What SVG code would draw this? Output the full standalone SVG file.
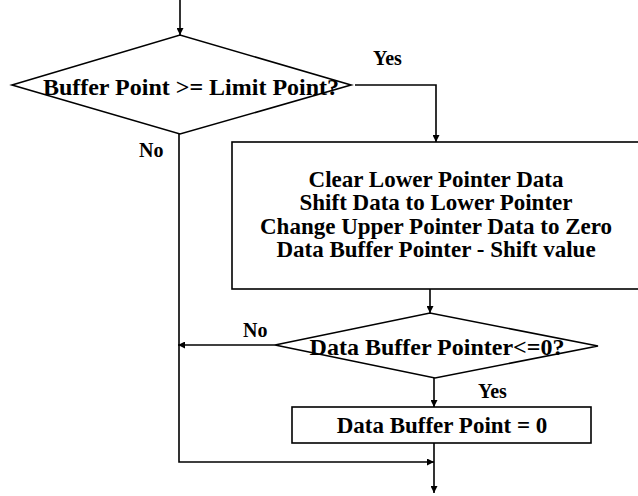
<svg xmlns="http://www.w3.org/2000/svg" width="638" height="496" viewBox="0 0 638 496">
<defs>
<marker id="ah" viewBox="0 0 10 10" refX="10" refY="5" markerWidth="7" markerHeight="7" markerUnits="userSpaceOnUse" orient="auto">
<path d="M0,0 L10,5 L0,10 z" fill="#000"/>
</marker>
<style>
.shape{fill:#fff;stroke:#000;stroke-width:1.6}
.conn{fill:none;stroke:#000;stroke-width:1.6}
.t{font-family:"Liberation Serif","Times New Roman",serif;font-weight:bold;fill:#000;text-anchor:middle}
.lbl{font-family:"Liberation Serif","Times New Roman",serif;font-weight:bold;fill:#000;font-size:20px}
</style>
</defs>
<rect width="638" height="496" fill="#fff"/>
<g id="connectors">
<path class="conn" d="M180,0 V35" marker-end="url(#ah)"/>
<path class="conn" d="M355,85 H436 V142" marker-end="url(#ah)"/>
<path class="conn" d="M179,134 V462 H434" marker-end="url(#ah)"/>
<path class="conn" d="M430,289 V313" marker-end="url(#ah)"/>
<path class="conn" d="M275,345 H178" marker-end="url(#ah)"/>
<path class="conn" d="M434,378 V407" marker-end="url(#ah)"/>
<path class="conn" d="M434,443 V493" marker-end="url(#ah)"/>
</g>
<g id="decision1">
<polygon class="shape" points="12,85 180,35 351,85 180,134"/>
<text class="t" x="191" y="95" font-size="24">Buffer Point &gt;= Limit Point?</text>
</g>
<g id="process1">
<rect class="shape" x="232" y="142" width="410" height="147"/>
<text class="t" x="436" y="187" font-size="23">Clear Lower Pointer Data</text>
<text class="t" x="436" y="210" font-size="23">Shift Data to Lower Pointer</text>
<text class="t" x="436" y="233.5" font-size="23">Change Upper Pointer Data to Zero</text>
<text class="t" x="436" y="257" font-size="23">Data Buffer Pointer - Shift value</text>
</g>
<g id="decision2">
<polygon class="shape" points="275,345 430,313 598,346 435,378"/>
<text class="t" x="437" y="355" font-size="24">Data Buffer Pointer&lt;=0?</text>
</g>
<g id="process2">
<rect class="shape" x="292" y="407" width="299" height="36"/>
<text class="t" x="442" y="433" font-size="23">Data Buffer Point = 0</text>
</g>
<g id="labels">
<text class="lbl" x="373" y="65">Yes</text>
<text class="lbl" x="139" y="157">No</text>
<text class="lbl" x="243" y="337">No</text>
<text class="lbl" x="478" y="398">Yes</text>
</g>
</svg>
